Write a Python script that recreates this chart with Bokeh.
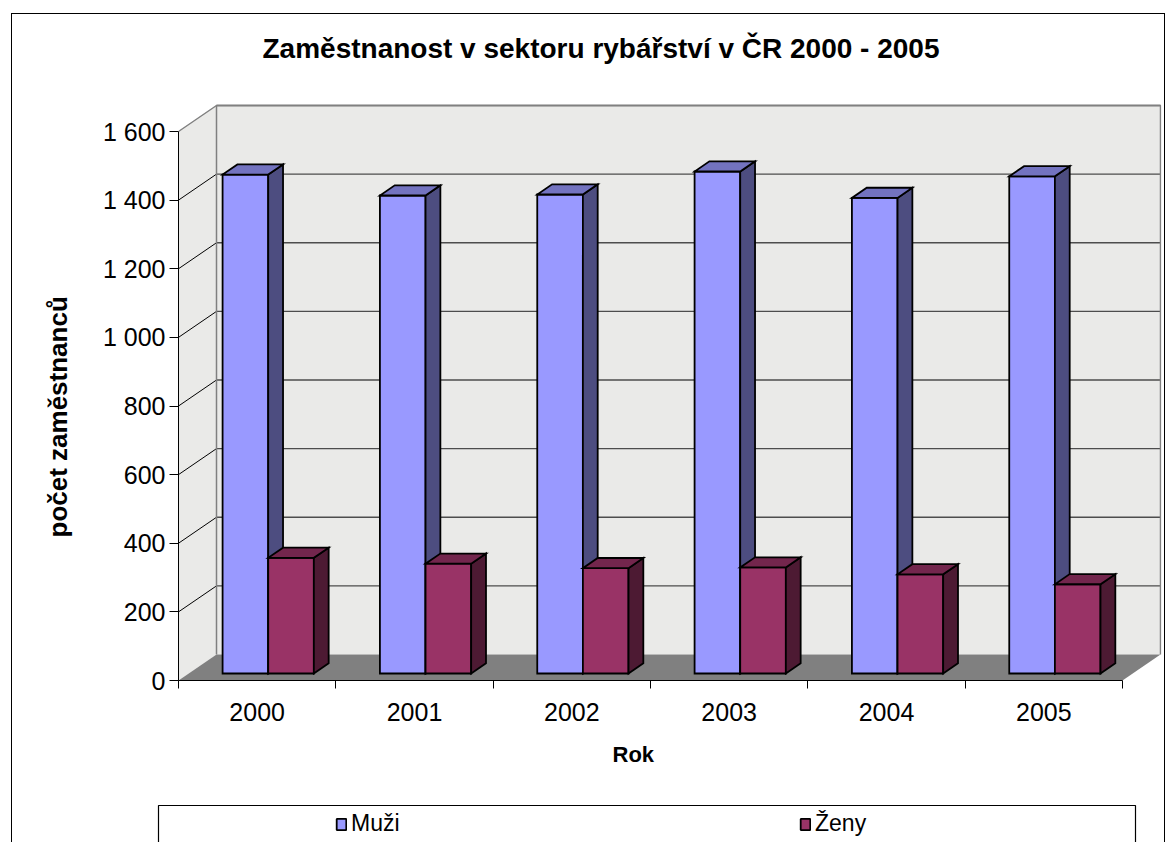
from bokeh.plotting import figure
from bokeh.layouts import column, row
from bokeh.models import Range1d, FixedTicker, Legend, LegendItem, Title
from bokeh.embed import file_html
from bokeh.resources import INLINE

# ---- data ----
years = ["2000", "2001", "2002", "2003", "2004", "2005"]
muzi = [1454, 1393, 1396, 1463, 1386, 1449]
zeny = [337, 320, 307, 309, 289, 260]
y_ticks = [0, 200, 400, 600, 800, 1000, 1200, 1400, 1600]
series = ["Muži", "Ženy"]

# ---- layout constants ----
PX_X = 157.333      # px per category
PX_Y = 0.343125     # px per unit
DX, DY = 38 / PX_X, 26 / PX_Y   # depth vector of the 3D box
F, D = 0.27, 0.39               # bar front depth and bar depth
FONT = "Liberation Sans"
n = len(years)
ymax = y_ticks[-1]

FW, FH = 983, 600
p = figure(frame_width=FW, frame_height=FH,
           x_range=Range1d(0, FW / PX_X), y_range=Range1d(0, FH / PX_Y),
           output_backend="svg", toolbar_location=None,
           min_border_left=166, min_border_top=66, min_border_right=3,
           min_border_bottom=120)
p.outline_line_color = None
p.xgrid.visible = False
p.ygrid.visible = False
p.background_fill_color = "white"

# ---- title ----
p.title.text = "Zaměstnanost v sektoru rybářství v ČR 2000 - 2005"
p.title.text_font = FONT
p.title.text_font_size = "28px"
p.title.text_font_style = "bold"
p.title.text_color = "black"
p.title.align = "left"
p.title.vertical_align = "top"
p.title.offset = 84
p.title.standoff = 30

# ---- walls and floor ----
wall = "#eaeae8"
p.patch([0, DX, DX, 0], [0, DY, ymax + DY, ymax], fill_color=wall, line_color=None)
p.quad(left=DX, right=n + DX, bottom=DY, top=ymax + DY, fill_color=wall, line_color=None)
p.patch([0, n, n + DX, DX], [0, 0, DY, DY], fill_color="#808080", line_color=None)

gv = [v for v in y_ticks if v > 0]
p.segment(x0=[DX] * len(gv), y0=[v + DY for v in gv], x1=[n + DX] * len(gv),
          y1=[v + DY for v in gv], line_color="#4d4d4d", line_width=1.3)
p.segment(x0=[0] * len(gv[:-1]), y0=gv[:-1], x1=[DX] * len(gv[:-1]),
          y1=[v + DY for v in gv[:-1]], line_color="black", line_width=1)
p.line([0, DX, n + DX, n + DX], [ymax, ymax + DY, ymax + DY, DY], line_color="#808080", line_width=1.5)
p.line([DX, DX], [DY, ymax + DY], line_color="#808080", line_width=1.5)

# ---- bars ----
def faces(values, a, b):
    fx, fy, sx, sy, tx, ty = [], [], [], [], [], []
    ex, ey = D * DX, D * DY
    for i, v in enumerate(values):
        X0, X1 = i + a + F * DX, i + b + F * DX
        Yb, Yt = F * DY, v + F * DY
        fx.append([X0, X1, X1, X0]); fy.append([Yb, Yb, Yt, Yt])
        sx.append([X1, X1 + ex, X1 + ex, X1]); sy.append([Yb, Yb + ey, Yt + ey, Yt])
        tx.append([X0, X1, X1 + ex, X0 + ex]); ty.append([Yt, Yt, Yt + ey, Yt + ey])
    return fx, fy, sx, sy, tx, ty

def draw(values, a, b, cf, cs, ct):
    fx, fy, sx, sy, tx, ty = faces(values, a, b)
    kw = dict(line_color="black", line_width=1.8, line_join="miter")
    p.patches(fx, fy, fill_color=cf, **kw)
    p.patches(sx, sy, fill_color=cs, **kw)
    p.patches(tx, ty, fill_color=ct, **kw)

COL_M = ("#9999FF", "#4D4D80", "#7373C0")
COL_Z = ("#993366", "#4D1A33", "#73264D")
draw(muzi, 0.215, 0.505, *COL_M)
draw(zeny, 0.505, 0.795, *COL_Z)

# ---- axes ----
ya = p.yaxis[0]
ya.ticker = FixedTicker(ticks=y_ticks)
ya.major_label_overrides = {v: f"{v:,}".replace(",", " ") for v in y_ticks}
ya.bounds = (0, ymax)
ya.axis_line_color = "black"
ya.major_tick_out = 9
ya.major_tick_in = 0
ya.minor_tick_line_color = None
ya.major_label_standoff = 4
ya.major_label_text_font = FONT
ya.major_label_text_font_size = "25px"
ya.major_label_text_color = "black"

xa = p.xaxis[0]
xa.ticker = FixedTicker(ticks=[i + 0.5 for i in range(n)], minor_ticks=list(range(n + 1)))
xa.major_label_overrides = {i + 0.5: y for i, y in enumerate(years)}
xa.bounds = (0, n)
xa.axis_line_color = "black"
xa.major_tick_line_color = None
xa.major_tick_out = 0
xa.major_tick_in = 0
xa.minor_tick_out = 8
xa.minor_tick_in = 0
xa.minor_tick_line_color = "black"
xa.major_label_standoff = 14
xa.major_label_text_font = FONT
xa.major_label_text_font_size = "25px"
xa.major_label_text_color = "black"

# axis titles placed along their axes
p.add_layout(Title(text="počet zaměstnanců", align="left", offset=143,
                   vertical_align="middle", standoff=52, text_font=FONT,
                   text_font_size="26px", text_font_style="bold",
                   text_color="black"), "left")
p.add_layout(Title(text="Rok", align="left", offset=434, vertical_align="top",
                   standoff=36, text_font=FONT, text_font_size="22px",
                   text_font_style="bold", text_color="black"), "below")

# ---- legend strip (its frame uses page px coordinates) ----
p2 = figure(frame_width=981, frame_height=39, x_range=Range1d(156, 1137),
            y_range=Range1d(842, 803), output_backend="svg", toolbar_location=None,
            x_axis_type=None, y_axis_type=None,
            min_border_left=144, min_border_right=27, min_border_top=3, min_border_bottom=0)
p2.outline_line_color = None
p2.xgrid.visible = False
p2.ygrid.visible = False
p2.quad(left=158, right=1135, top=805, bottom=900, fill_color=None,
        line_color="black", line_width=1.2)
# legend proxies (one row each, placed outside the visible range)
rm = p2.quad(left=[0], right=[1], top=[0], bottom=[-1], fill_color=COL_M[0],
             line_color="black", line_width=1.8)
rz = p2.quad(left=[0], right=[1], top=[0], bottom=[-1], fill_color=COL_Z[0],
             line_color="black", line_width=1.8)
legend = Legend(items=[LegendItem(label=series[0], renderers=[rm]),
                       LegendItem(label=series[1], renderers=[rz])],
                orientation="horizontal", location=(179, 5),
                glyph_width=12, glyph_height=14, label_standoff=4,
                label_width=440, spacing=8, padding=4, margin=0,
                border_line_color=None, background_fill_alpha=0,
                label_text_font=FONT, label_text_font_size="23px",
                label_text_color="black")
p2.add_layout(legend, "center")

layout = column(p, row(p2), spacing=0,
                styles={"margin-left": "11px", "margin-top": "13px",
                        "border": "1px solid black", "border-bottom": "0px"})

open("out.html", "w").write(file_html(layout, INLINE))
